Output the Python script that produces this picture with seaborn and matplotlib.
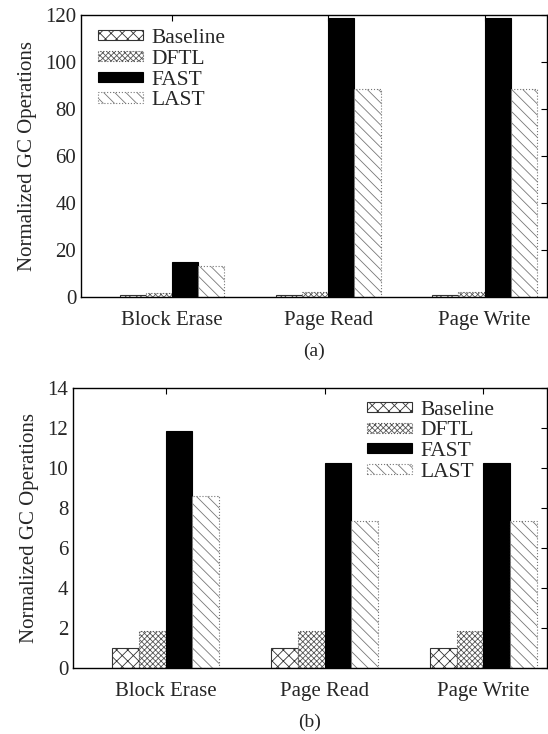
import pandas as pd
import seaborn as sns
import matplotlib.pyplot as plt

ops = ['Block Erase', 'Page Read', 'Page Write']
schemes = ['Baseline', 'DFTL', 'FAST', 'LAST']

# (a) normalized GC operations
a_baseline = [1.0, 1.0, 1.0]
a_dftl = [1.8, 2.2, 2.2]
a_fast = [14.9, 118.8, 118.8]
a_last = [13.3, 88.6, 88.6]

# (b) normalized GC operations
b_baseline = [1.0, 1.0, 1.0]
b_dftl = [1.85, 1.85, 1.85]
b_fast = [11.85, 10.25, 10.25]
b_last = [8.6, 7.35, 7.35]


def to_frame(*series):
    rows = []
    for scheme, vals in zip(schemes, series):
        for op, v in zip(ops, vals):
            rows.append({'op': op, 'scheme': scheme, 'value': v})
    return pd.DataFrame(rows)


df_a = to_frame(a_baseline, a_dftl, a_fast, a_last)
df_b = to_frame(b_baseline, b_dftl, b_fast, b_last)

sns.set_theme(style='white')
plt.rcParams['font.family'] = ['Liberation Serif', 'DejaVu Serif']
plt.rcParams['hatch.linewidth'] = 0.6
plt.rcParams['xtick.direction'] = 'in'
plt.rcParams['ytick.direction'] = 'in'

palette = ['white', 'white', 'black', 'white']
hatches = ['xxx', 'xxxxxx', None, '\\\\\\']
edges = ['#333333', '#555555', 'black', '#777777']
styles = ['-', ':', '-', ':']

fig = plt.figure(figsize=(5.48, 7.34), dpi=100)
ax_a = fig.add_axes([81 / 548, 1 - 297 / 734, 466 / 548, 282 / 734])
ax_b = fig.add_axes([73 / 548, 1 - 668 / 734, 474 / 548, 280 / 734])


def draw(ax, df, ymax, yticks, label, legend_loc, legend_anchor):
    sns.barplot(data=df, x='op', y='value', hue='scheme', hue_order=schemes,
                palette=palette, width=0.67, gap=0, saturation=1,
                edgecolor='black', linewidth=0.8, ax=ax)
    for cont, h, ec, ls in zip(ax.containers, hatches, edges, styles):
        for p in cont.patches:
            p.set_hatch(h)
            p.set_edgecolor(ec)
            p.set_linestyle(ls)
    ax.set_ylim(0, ymax)
    ax.set_yticks(yticks)
    ax.set_xlim(-0.583, 2.40)
    ax.set_xlabel(label, fontsize=14, labelpad=9)
    ax.set_ylabel('Normalized GC Operations', fontsize=15, labelpad=6)
    ax.tick_params(axis='both', labelsize=15, top=True, right=True,
                   length=4, width=0.8, color='black')
    ax.tick_params(axis='x', pad=10, length=4)
    for s in ax.spines.values():
        s.set_visible(True)
        s.set_color('black')
        s.set_linewidth(1.0)
    ax.get_legend().remove()
    ax.legend(ax.containers, schemes, loc=legend_loc, bbox_to_anchor=legend_anchor,
              frameon=False, fontsize=15.5, handlelength=2.1, handleheight=0.35,
              labelspacing=0.08, handletextpad=0.4, borderaxespad=0,
              borderpad=0)


draw(ax_a, df_a, 120, range(0, 121, 20), '(a)', 'upper left', (0.036, 0.95))
draw(ax_b, df_b, 14, range(0, 15, 2), '(b)', 'upper right', (0.89, 0.955))

fig.savefig('out.png', dpi=100)
